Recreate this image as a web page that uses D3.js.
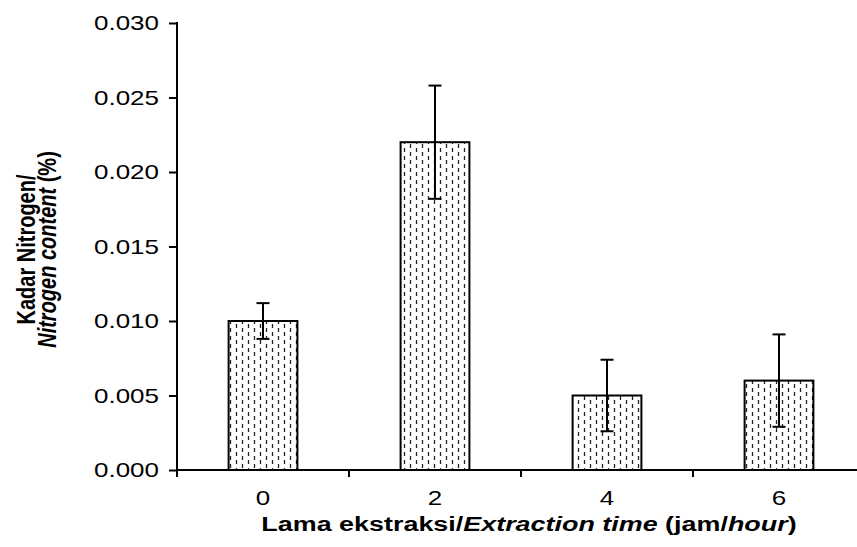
<!DOCTYPE html>
<html>
<head>
<meta charset="utf-8">
<script src="https://cdn.jsdelivr.net/npm/d3@7"></script>
<style>
  html, body { margin: 0; padding: 0; background: #fff; }
  svg { display: block; }
  text { font-family: "Liberation Sans", Arial, sans-serif; fill: #000; }
</style>
</head>
<body>
<svg id="chart" width="857" height="547"></svg>
<script>
// ---- data ----
const categories = ["0", "2", "4", "6"];
const values = [0.010, 0.022, 0.005, 0.006];
const errors = [0.0012, 0.0038, 0.0024, 0.0031];
const yTicks = [0.000, 0.005, 0.010, 0.015, 0.020, 0.025, 0.030];
const xTitleParts = [["Lama ekstraksi/", "normal"], ["Extraction time", "italic"], [" (jam/", "normal"], ["hour", "italic"], [")", "normal"]];
const yTitleLine1 = [["Kadar Nitrogen/", "normal"]];
const yTitleLine2 = [["Nitrogen content", "italic"], [" (%)", "normal"]];

(function () {
// ---- layout ----
const pLeft = 177, pRight = 865, pTop = 23, pBottom = 470;
const SX = 1.3;     // horizontal stretch of the original picture
const FS = 20;

const svg = d3.select("#chart");

const defs = svg.append("defs");
const pat = defs.append("pattern")
  .attr("id", "dashes").attr("patternUnits", "userSpaceOnUse")
  .attr("width", 12).attr("height", 8);
pat.append("rect").attr("width", 12).attr("height", 8).attr("fill", "#fff");
pat.append("line").attr("x1", 2.5).attr("x2", 2.5).attr("y1", 0).attr("y2", 4)
  .attr("stroke", "#222").attr("stroke-width", 1.3);
pat.append("line").attr("x1", 8.5).attr("x2", 8.5).attr("y1", 4).attr("y2", 8)
  .attr("stroke", "#222").attr("stroke-width", 1.3);

const x = d3.scaleBand().domain(categories).range([pLeft, pRight])
  .paddingInner(0.6).paddingOuter(0.3);
const y = d3.scaleLinear().domain([0, 0.030]).range([pBottom, pTop]);

// bars
svg.append("g").selectAll("rect").data(categories).join("rect")
  .attr("x", d => x(d))
  .attr("y", (d, i) => y(values[i]))
  .attr("width", x.bandwidth())
  .attr("height", (d, i) => y(0) - y(values[i]))
  .attr("fill", "url(#dashes)")
  .attr("stroke", "#000").attr("stroke-width", 2);

// error bars
const eg = svg.append("g").attr("stroke", "#000").attr("stroke-width", 2);
categories.forEach((c, i) => {
  const cx = x(c) + x.bandwidth() / 2;
  const y1 = y(values[i] + errors[i]), y2 = y(values[i] - errors[i]);
  eg.append("line").attr("x1", cx).attr("x2", cx).attr("y1", y1).attr("y2", y2);
  eg.append("line").attr("x1", cx - 6.5).attr("x2", cx + 6.5).attr("y1", y1).attr("y2", y1);
  eg.append("line").attr("x1", cx - 6.5).attr("x2", cx + 6.5).attr("y1", y2).attr("y2", y2);
});

// y axis
const yAxis = d3.axisLeft(y).tickValues(yTicks).tickFormat(d3.format(".3f"))
  .tickSize(8).tickSizeOuter(0).tickPadding(0);
const yg = svg.append("g").attr("transform", `translate(${pLeft},0)`).call(yAxis);
yg.select(".domain").remove();
yg.selectAll(".tick line").attr("stroke", "#000").attr("stroke-width", 2);
yg.selectAll(".tick text").remove();
yg.append("line").attr("x1", 0).attr("x2", 0).attr("y1", pTop - 1).attr("y2", pBottom + 7)
  .attr("stroke", "#000").attr("stroke-width", 2);
yTicks.forEach(t => {
  svg.append("text")
    .attr("transform", `translate(159,${y(t) + 7}) scale(${SX},1)`)
    .attr("text-anchor", "end").attr("font-size", FS)
    .text(d3.format(".3f")(t));
});

// x axis
const bounds = categories.map(c => x(c) - x.step() * x.paddingInner() / 2);
svg.append("line").attr("x1", pLeft).attr("x2", pRight).attr("y1", pBottom).attr("y2", pBottom)
  .attr("stroke", "#000").attr("stroke-width", 2);
bounds.slice(1).forEach(b => {
  svg.append("line").attr("x1", b).attr("x2", b).attr("y1", pBottom).attr("y2", pBottom + 7)
    .attr("stroke", "#000").attr("stroke-width", 2);
});
categories.forEach(c => {
  svg.append("text")
    .attr("transform", `translate(${x(c) + x.bandwidth() / 2},505) scale(${SX},1)`)
    .attr("text-anchor", "middle").attr("font-size", FS)
    .text(c);
});

function richText(g, parts, fs) {
  const t = g.append("text").attr("font-size", fs).attr("font-weight", "bold")
    .attr("text-anchor", "middle");
  parts.forEach(p => t.append("tspan").attr("font-style", p[1]).text(p[0]));
  return t;
}

// x title
richText(svg.append("g").attr("transform", `translate(529,531) scale(${SX},1)`), xTitleParts, 20.7);

// y title (two lines, rotated)
const yc = (pTop + pBottom) / 2;
richText(svg.append("g").attr("transform", `translate(35,${yc + 3}) scale(${SX},1) rotate(-90)`), yTitleLine1, FS);
richText(svg.append("g").attr("transform", `translate(56,${yc + 3}) scale(${SX},1) rotate(-90)`), yTitleLine2, FS);
})();
</script>
</body>
</html>
